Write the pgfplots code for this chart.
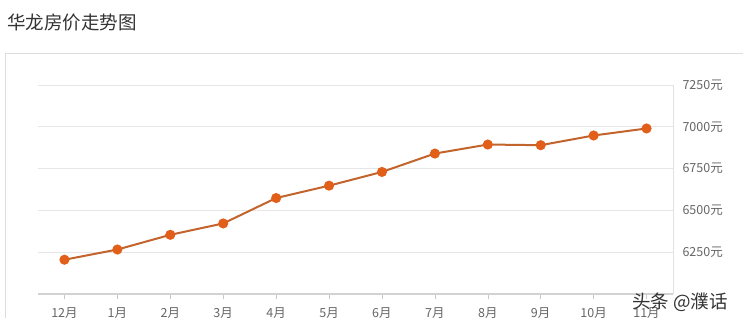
\documentclass[border=0pt]{standalone}
\usepackage{pgfplots}
\pgfplotsset{compat=1.18}
\usepackage{fontspec}
\setmainfont{Noto Sans CJK SC}
\definecolor{lbl}{RGB}{102,102,102}
\definecolor{ttl}{RGB}{51,51,51}
\definecolor{grd}{RGB}{230,230,230}
\definecolor{lnc}{RGB}{195,100,45}
\definecolor{mkc}{RGB}{225,95,25}
\begin{document}
\begin{tikzpicture}
\path[use as bounding box, clip] (0pt,0pt) rectangle (743pt,317pt);
\fill[white] (0pt,0pt) rectangle (743pt,317pt);
\draw[draw={rgb,255:red,221;green,221;blue,221}, line width=1pt] (5pt,-20pt) -- (5pt,264pt) -- (760pt,264pt);
\node[anchor=west, text=ttl, font=\fontsize{18.5}{18.5}\selectfont, inner sep=0pt] at (7pt,294pt) {华龙房价走势图};
\begin{axis}[
  at={(38pt,23pt)}, anchor=south west,
  width=635pt, height=209pt, scale only axis,
  xmin=-0.5, xmax=11.5, ymin=6000, ymax=7250,
  axis x line*=bottom, axis y line*=right,
  x axis line style={draw={rgb,255:red,210;green,210;blue,210}, line width=1.6pt},
  y axis line style={draw={rgb,255:red,225;green,225;blue,225}, line width=0.8pt},
  ymajorgrids, grid style={draw=grd, line width=0.8pt},
  xtick={0,...,11},
  xticklabels={12月,1月,2月,3月,4月,5月,6月,7月,8月,9月,10月,11月},
  ytick={6250,6500,6750,7000,7250},
  yticklabels={6250元,6500元,6750元,7000元,7250元},
  tick align=outside,
  major tick length=5pt,
  xtick style={draw={rgb,255:red,200;green,200;blue,200}, line width=0.6pt},
  ytick style={draw=none},
  tick label style={text=lbl, font=\fontsize{12.5}{12.5}\selectfont},
  xticklabel style={yshift=-5pt},
  yticklabel style={anchor=west, xshift=1pt},
  clip=false,
]
\addplot[color=lnc, line width=2pt, mark=*, mark size=4pt, mark options={fill=mkc, draw=mkc}]
coordinates {(0,6205)(1,6266)(2,6354)(3,6422)(4,6574)(5,6648)(6,6730)(7,6840)(8,6894)(9,6890)(10,6948)(11,6990)};
\end{axis}
\node[anchor=west, text=ttl, font=\fontsize{18.5}{18.5}\selectfont, inner sep=0pt] at (632pt,15pt) {头条 @濮话};
\end{tikzpicture}
\end{document}
